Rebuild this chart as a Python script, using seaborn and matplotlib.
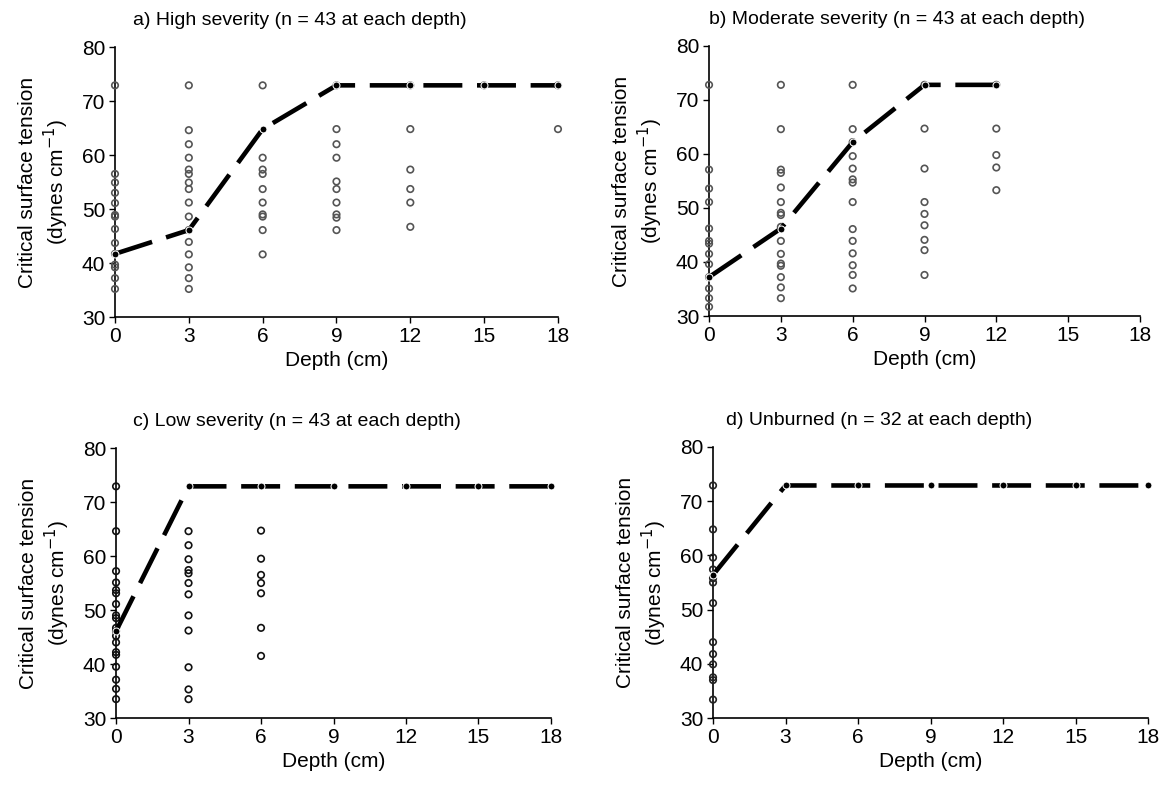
import numpy as np
import pandas as pd
import matplotlib
matplotlib.use("Agg")
import matplotlib.pyplot as plt
import seaborn as sns

# ==========================================
# DATA
# ==========================================
depths = [0, 3, 6, 9, 12, 15, 18]

titles = ["a) High severity (n = 43 at each depth)",
          "b) Moderate severity (n = 43 at each depth)",
          "c) Low severity (n = 43 at each depth)",
          "d) Unburned (n = 32 at each depth)"]

# individual samples, per depth
high_pts = {
    0: [72.9, 56.5, 54.9, 53.0, 51.1, 48.9, 48.6, 46.3, 43.7, 41.7, 39.7, 39.2, 37.2, 35.2],
    3: [72.9, 64.6, 62.0, 59.5, 57.3, 56.5, 54.9, 53.7, 51.2, 48.6, 46.1, 43.9, 41.6, 39.2, 37.2, 35.2],
    6: [72.9, 59.5, 57.3, 56.5, 53.7, 51.2, 49.0, 48.6, 46.1, 41.6],
    9: [72.9, 64.8, 62.0, 59.5, 55.1, 53.7, 51.2, 49.0, 48.4, 46.1],
    12: [72.9, 64.8, 57.3, 53.7, 51.2, 46.7],
    15: [72.9],
    18: [72.9, 64.8],
}
mod_pts = {
    0: [72.8, 57.1, 53.6, 51.1, 46.2, 43.9, 43.4, 41.5, 39.6, 37.2, 35.1, 33.3, 31.7],
    3: [72.8, 64.6, 57.1, 56.5, 53.8, 51.1, 49.1, 48.7, 46.5, 43.9, 41.5, 39.7, 39.3, 37.2, 35.3, 33.3],
    6: [72.8, 64.6, 62.2, 59.6, 57.3, 55.3, 54.7, 51.1, 46.1, 43.9, 41.6, 39.4, 37.6, 35.1],
    9: [72.8, 64.7, 57.3, 51.1, 48.9, 46.8, 44.1, 42.2, 37.6],
    12: [72.8, 64.7, 59.8, 57.5, 53.3],
}
low_pts = {
    0: [72.9, 64.6, 57.2, 55.1, 53.7, 53.1, 51.1, 49.0, 48.5, 46.7, 46.1, 45.2, 44.0,
        42.2, 41.7, 39.5, 37.1, 35.4, 33.5],
    3: [64.6, 62.0, 59.4, 57.4, 56.8, 55.0, 52.9, 49.0, 46.2, 39.4, 35.3, 33.5],
    6: [64.7, 59.5, 56.5, 55.0, 53.1, 46.7, 41.5],
}
unb_pts = {
    0: [72.9, 64.8, 59.6, 57.4, 55.8, 55.0, 51.2, 44.0, 41.8, 39.9, 37.5, 37.0, 33.4],
}

# mean critical surface tension per depth
high_mean = [41.7, 46.1, 64.8, 72.9, 72.9, 72.9, 72.9]
mod_mean = [37.2, 46.2, 62.2, 72.8, 72.8]
low_mean = [46.1, 72.9, 72.9, 72.9, 72.9, 72.9, 72.9]
unb_mean = [56.4, 72.9, 72.9, 72.9, 72.9, 72.9, 72.9]

# ==========================================
# PLOTTING
# ==========================================
sns.set_style("white")
plt.rcParams['font.family'] = ['Liberation Sans', 'DejaVu Sans']
for key in ['text.color', 'axes.labelcolor', 'xtick.color', 'ytick.color']:
    plt.rcParams[key] = 'black'

fig = plt.figure(figsize=(11.71, 7.9), dpi=100)
fig.patch.set_facecolor('white')

positions = [
    [0.0982, 0.5987, 0.3783, 0.3418],
    [0.6055, 0.6000, 0.3680, 0.3418],
    [0.0991, 0.0911, 0.3714, 0.3418],
    [0.6089, 0.0911, 0.3715, 0.3431],
]
title_x = [0.04, 0.0, 0.04, 0.03]
pt_colors = ['#555555', '#555555', '#111111', '#222222']

panels = [(high_pts, high_mean), (mod_pts, mod_mean), (low_pts, low_mean), (unb_pts, unb_mean)]

for i, (pts, mean) in enumerate(panels):
    ax = fig.add_axes(positions[i])
    ax.set_facecolor('white')

    rows = [{'Depth': d, 'Tension': v} for d, vals in pts.items() for v in vals]
    pts_df = pd.DataFrame(rows)
    mean_df = pd.DataFrame({'Depth': depths[:len(mean)], 'Tension': mean})

    sns.scatterplot(data=pts_df, x='Depth', y='Tension', ax=ax, marker='o', s=22,
                    facecolor='none', edgecolor=pt_colors[i], linewidth=1.2,
                    clip_on=False, zorder=3)
    sns.lineplot(data=mean_df, x='Depth', y='Tension', ax=ax, color='black',
                 linewidth=3.3, marker='o', markersize=5, dashes=False,
                 clip_on=False, zorder=4)
    ax.lines[-1].set_dashes((8.5, 3.2))

    ax.set_xlim(0, 18)
    ax.set_ylim(30, 80)
    ax.set_xticks(depths)
    ax.set_yticks([30, 40, 50, 60, 70, 80])
    ax.tick_params(axis='both', labelsize=15, direction='out', length=4, width=1,
                   left=True, bottom=True, pad=3)
    ax.set_xlabel("Depth (cm)", fontsize=15, labelpad=4)
    ax.set_ylabel("Critical surface tension\n(dynes cm$^{-1}$)", fontsize=15, labelpad=8)
    ax.text(title_x[i], 1.065, titles[i], transform=ax.transAxes, fontsize=14,
            ha='left', va='bottom')
    sns.despine(ax=ax)
    for sp in ['left', 'bottom']:
        ax.spines[sp].set_color('black')
        ax.spines[sp].set_linewidth(1.2)

plt.savefig("out.png", dpi=100)
plt.close()
